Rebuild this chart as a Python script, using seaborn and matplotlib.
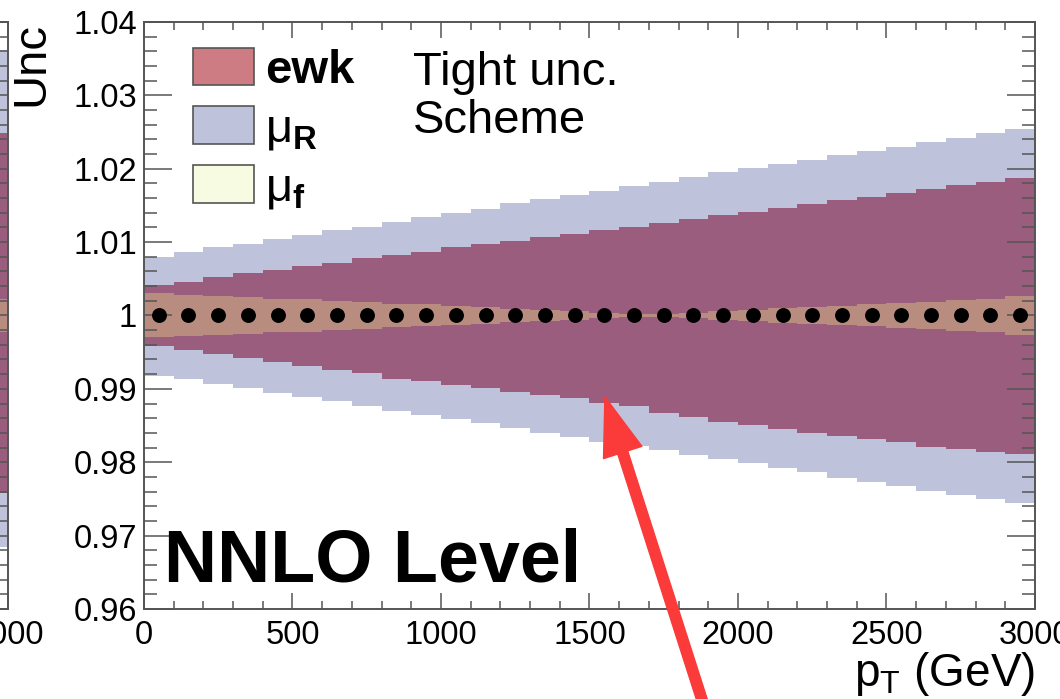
import numpy as np
import seaborn as sns
import matplotlib.pyplot as plt
from matplotlib.patches import Patch
from matplotlib.ticker import MultipleLocator

sns.set_theme(style="ticks")
plt.rcParams['font.family'] = ['Liberation Sans', 'DejaVu Sans']
plt.rcParams['mathtext.fontset'] = 'custom'
plt.rcParams['mathtext.rm'] = 'Liberation Sans'
plt.rcParams['mathtext.bf'] = 'Liberation Sans:bold'
plt.rcParams['hatch.linewidth'] = 0.4
plt.rcParams['text.color'] = 'black'
plt.rcParams['axes.labelcolor'] = 'black'

# bins of 100 GeV from 0 to 3000
pt_edges = np.arange(0, 3001, 100)
central = [1.0] * 30

mu_r_up = [1.0080, 1.0087, 1.0093, 1.0097, 1.0104, 1.0110, 1.0117, 1.0121, 1.0127, 1.0134,
           1.0140, 1.0145, 1.0153, 1.0159, 1.0164, 1.0170, 1.0177, 1.0182, 1.0189, 1.0195,
           1.0201, 1.0206, 1.0212, 1.0219, 1.0224, 1.0230, 1.0236, 1.0242, 1.0249, 1.0254]
mu_r_dn = [0.9918, 0.9913, 0.9907, 0.9901, 0.9894, 0.9889, 0.9883, 0.9877, 0.9870, 0.9864,
           0.9859, 0.9853, 0.9846, 0.9840, 0.9835, 0.9828, 0.9822, 0.9816, 0.9810, 0.9804,
           0.9799, 0.9792, 0.9786, 0.9779, 0.9773, 0.9768, 0.9761, 0.9755, 0.9750, 0.9745]
ewk_up = [1.0042, 1.0046, 1.0052, 1.0058, 1.0062, 1.0067, 1.0072, 1.0078, 1.0082, 1.0087,
          1.0093, 1.0097, 1.0102, 1.0107, 1.0111, 1.0117, 1.0121, 1.0126, 1.0131, 1.0137,
          1.0141, 1.0147, 1.0152, 1.0157, 1.0162, 1.0167, 1.0172, 1.0178, 1.0182, 1.0188]
ewk_dn = [0.9958, 0.9953, 0.9948, 0.9942, 0.9936, 0.9931, 0.9926, 0.9921, 0.9914, 0.9910,
          0.9905, 0.9901, 0.9896, 0.9892, 0.9888, 0.9881, 0.9876, 0.9867, 0.9861, 0.9855,
          0.9851, 0.9845, 0.9840, 0.9836, 0.9831, 0.9827, 0.9821, 0.9818, 0.9814, 0.9811]
mu_f_up = [1.0030, 1.0028, 1.0027, 1.0025, 1.0023, 1.0022, 1.0020, 1.0018, 1.0016, 1.0015,
           1.0013, 1.0011, 1.0009, 1.0008, 1.0006, 1.0004, 1.0002, 1.0002, 1.0004, 1.0006,
           1.0008, 1.0010, 1.0012, 1.0013, 1.0015, 1.0017, 1.0019, 1.0021, 1.0023, 1.0026]
mu_f_dn = [0.9970, 0.9972, 0.9973, 0.9975, 0.9977, 0.9978, 0.9980, 0.9982, 0.9984, 0.9985,
           0.9987, 0.9989, 0.9991, 0.9992, 0.9994, 0.9996, 0.9998, 0.9998, 0.9996, 0.9994,
           0.9992, 0.9990, 0.9988, 0.9987, 0.9985, 0.9983, 0.9981, 0.9979, 0.9977, 0.9974]

# last bin of the neighbouring (cropped) panel on the left
left_edges = [2900, 3000]
left_mu_r = [1.0362, 0.9685]
left_ewk = [1.0249, 0.9758]
left_mu_f = [1.0023, 0.9977]

x_ticks = [0, 500, 1000, 1500, 2000, 2500, 3000]
x_labels = ['0', '500', '1000', '1500', '2000', '2500', '3000']
y_ticks = [0.96, 0.97, 0.98, 0.99, 1.0, 1.01, 1.02, 1.03, 1.04]
y_labels = ['0.96', '0.97', '0.98', '0.99', '1', '1.01', '1.02', '1.03', '1.04']

col_mur = '#bfc2db'
col_ewk = '#9b5d7d'
col_muf = '#b98c80'
leg_ewk = '#cc7c82'
leg_muf = '#f6fbe2'
frame = '#555555'


def draw_bands(ax, edges, bands):
    lo = np.array(edges[:-1])
    w = np.diff(edges)
    for up, dn, c, h in bands:
        ax.bar(lo, np.array(up) - np.array(dn), width=w, bottom=dn, align='edge',
               color=c, linewidth=0, hatch=h, edgecolor=c)


def style_axes(ax):
    ax.set_ylim(0.96, 1.04)
    ax.set_xlim(0, 3000)
    ax.yaxis.set_minor_locator(MultipleLocator(0.002))
    ax.xaxis.set_minor_locator(MultipleLocator(100))
    ax.tick_params(axis='both', which='both', direction='in', top=True, right=True,
                   colors=frame, labelcolor='black', labelsize=23.5, width=1.1)
    ax.tick_params(axis='y', which='major', length=20, pad=5)
    ax.tick_params(axis='y', which='minor', length=9.5)
    ax.tick_params(axis='x', which='major', length=11.5, pad=8)
    ax.tick_params(axis='x', which='minor', length=6)
    ax.set_axisbelow(False)
    for s in ax.spines.values():
        s.set_color(frame)
        s.set_linewidth(1.4)
    ax.grid(False)
    ax.set_facecolor('white')


fig = plt.figure(figsize=(10.6, 6.99), dpi=100)

# cropped neighbour panel
ax0 = fig.add_axes([0.0071 - 0.8406, 0.1288, 0.8406, 0.8398])
draw_bands(ax0, left_edges, [(left_mu_r[:1], left_mu_r[1:], col_mur, None),
                             (left_ewk[:1], left_ewk[1:], col_ewk, '||||||'),
                             (left_mu_f[:1], left_mu_f[1:], col_muf, None)])
style_axes(ax0)
ax0.set_yticks(y_ticks)
ax0.set_yticklabels([])
ax0.set_xticks([3000])
ax0.set_xticklabels(['3000'])

ax = fig.add_axes([0.1358, 0.1288, 0.8406, 0.8398])
draw_bands(ax, pt_edges, [(mu_r_up, mu_r_dn, col_mur, None),
                          (ewk_up, ewk_dn, col_ewk, '||||||'),
                          (mu_f_up, mu_f_dn, col_muf, None)])
centers = (pt_edges[:-1] + pt_edges[1:]) / 2
sns.scatterplot(x=centers, y=central, ax=ax, color='black', s=115, linewidth=0, zorder=5)
style_axes(ax)
ax.set_xticks(x_ticks)
ax.set_xticklabels(x_labels)
ax.set_yticks(y_ticks)
ax.set_yticklabels(y_labels)

ax.set_ylabel('Unc', fontsize=34, loc='top', labelpad=14)
ax.set_xlabel(r'p$_{\mathrm{T}}$ (GeV)', fontsize=33, loc='right', labelpad=-1)

handles = [Patch(facecolor=leg_ewk, edgecolor='#555555', linewidth=1.2),
           Patch(facecolor=col_mur, edgecolor='#555555', linewidth=1.2),
           Patch(facecolor=leg_muf, edgecolor='#555555', linewidth=1.2)]
labels = ['ewk', r'μ$_{\mathbf{R}}$', r'μ$_{\mathbf{f}}$']
leg = ax.legend(handles, labels, loc='upper left', bbox_to_anchor=(0.055, 0.956),
                frameon=False, fontsize=34, handlelength=1.3, handleheight=0.85,
                handletextpad=0.22, labelspacing=0.28, borderpad=0, borderaxespad=0)
leg.get_texts()[0].set_fontweight('bold')

ax.text(0.302, 0.95, 'Tight unc.\nScheme', transform=ax.transAxes, fontsize=34,
        va='top', ha='left', linespacing=1.12)
ax.text(0.023, 0.046, 'NNLO Level', transform=ax.transAxes, fontsize=53,
        fontweight='bold', va='baseline', ha='left')

# red arrow pointing at the ewk band edge
ax.annotate('', xy=(1552, 0.9889), xycoords='data',
            xytext=(703, -4), textcoords='figure pixels',
            arrowprops=dict(color='#fb3a3a', width=7.5, headwidth=29, headlength=42,
                            shrink=0), annotation_clip=False)

fig.savefig('out.png', dpi=100)
